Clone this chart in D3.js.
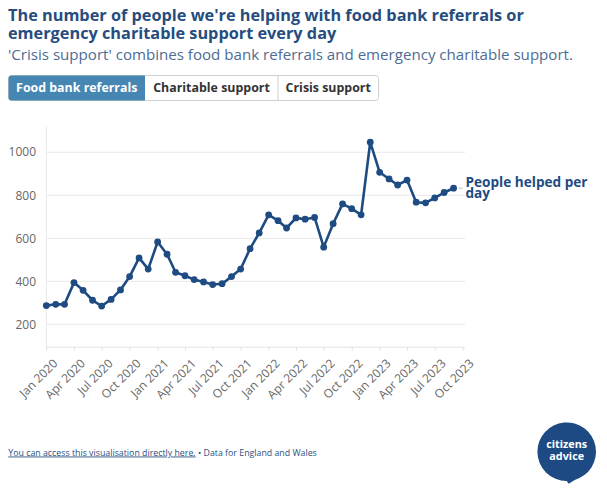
<!DOCTYPE html>
<html><head><meta charset="utf-8">
<script src="https://cdn.jsdelivr.net/npm/d3@7"></script>
<style>
html,body{margin:0;padding:0;background:#fff;}
svg{display:block;font-family:"Open Sans",sans-serif;}
</style></head>
<body>
<svg id="chart" width="607" height="496"></svg>
<script>
const months = ["2020-01","2020-02","2020-03","2020-04","2020-05","2020-06","2020-07","2020-08","2020-09","2020-10","2020-11","2020-12",
"2021-01","2021-02","2021-03","2021-04","2021-05","2021-06","2021-07","2021-08","2021-09","2021-10","2021-11","2021-12",
"2022-01","2022-02","2022-03","2022-04","2022-05","2022-06","2022-07","2022-08","2022-09","2022-10","2022-11","2022-12",
"2023-01","2023-02","2023-03","2023-04","2023-05","2023-06","2023-07","2023-08","2023-09"];
const peopleHelped = [287,293,293,394,358,312,285,316,360,422,509,457,
583,526,442,426,408,397,385,389,422,457,552,625,
709,682,648,695,689,697,559,668,760,738,709,1047,
907,876,848,871,768,765,788,813,833];
const yTicks = [200,400,600,800,1000];
const xTickMonths = ["2020-01","2020-04","2020-07","2020-10","2021-01","2021-04","2021-07","2021-10","2022-01","2022-04","2022-07","2022-10","2023-01","2023-04","2023-07","2023-10"];
const buttonLabels = ["Food bank referrals","Charitable support","Crisis support"];
const seriesLabelLines = ["People helped per","day"];

const svg = d3.select("#chart");
const parse = d3.timeParse("%Y-%m");
const fmt = d3.timeFormat("%b %Y");
const data = months.map((m,i)=>({date:parse(m), value:peopleHelped[i]}));

const x = d3.scaleTime().domain([parse("2020-01"), parse("2023-10")]).range([46.3, 462.7]);
const y = d3.scaleLinear().domain([96, 1119]).range([346.7, 126.7]);

// titles
const titleColor = "#264d7e";
svg.append("text").attr("x",8).attr("y",20.8).attr("fill",titleColor).attr("font-weight",700).attr("font-size",16.3)
  .text("The number of people we're helping with food bank referrals or");
svg.append("text").attr("x",8).attr("y",39.3).attr("fill",titleColor).attr("font-weight",700).attr("font-size",16.3)
  .text("emergency charitable support every day");
svg.append("text").attr("x",8).attr("y",60).attr("fill","#4d6c94").attr("font-size",15.1)
  .text("'Crisis support' combines food bank referrals and emergency charitable support.");

// buttons
const btnEdges = [8.5,145,278,378.5];
const bg = svg.append("g");
bg.append("rect").attr("x",8.5).attr("y",75.5).attr("width",370).attr("height",25).attr("rx",3)
  .attr("fill","#fff").attr("stroke","#cfcfcf");
bg.append("path").attr("d","M11.5,75.5 H145 V100.5 H11.5 Q8.5,100.5 8.5,97.5 V78.5 Q8.5,75.5 11.5,75.5 Z").attr("fill","#4686b2");
[278].forEach(e=>bg.append("line").attr("x1",e).attr("x2",e).attr("y1",75.5).attr("y2",100.5).attr("stroke","#cfcfcf"));
buttonLabels.forEach((b,i)=>{
  bg.append("text").attr("x",(btnEdges[i]+btnEdges[i+1])/2).attr("y",92).attr("text-anchor","middle")
    .attr("font-weight",700).attr("font-size",12.4).attr("fill", i===0?"#fff":"#333").text(b);
});

// grid
const g = svg.append("g");
g.selectAll("line.grid").data(yTicks).join("line").attr("class","grid")
  .attr("x1",46.3).attr("x2",465).attr("y1",d=>y(d)).attr("y2",d=>y(d)).attr("stroke","#e8e8e8");
g.append("line").attr("x1",46.3).attr("x2",46.3).attr("y1",126.7).attr("y2",346.7).attr("stroke","#e8e8e8");
g.selectAll("text.yl").data(yTicks).join("text").attr("class","yl")
  .attr("x",36).attr("y",d=>y(d)).attr("dy","0.35em").attr("text-anchor","end")
  .attr("font-size",12).attr("fill","#666").text(d=>d);

// x axis
const xAxis = d3.axisBottom(x).tickValues(xTickMonths.map(parse)).tickFormat(fmt).tickSize(4).tickSizeOuter(0);
const ax = svg.append("g").attr("transform","translate(0,346.7)").call(xAxis);
ax.select(".domain").attr("stroke","#e2e2e2").attr("d","M46.3,0.5H465");
ax.selectAll(".tick line").attr("stroke","#e2e2e2");
ax.selectAll(".tick text").attr("font-family","Open Sans").attr("font-size",12).attr("fill","#666")
  .attr("text-anchor","end").attr("transform","translate(8.5,14.5) rotate(-45)").attr("dy","0.35em").attr("y",0);

// line
const lineColor = "#1e4b82";
const line = d3.line().x(d=>x(d.date)).y(d=>y(d.value));
svg.append("path").datum(data).attr("d",line).attr("fill","none").attr("stroke",lineColor).attr("stroke-width",2.6).attr("stroke-linejoin","round");
svg.selectAll("circle.pt").data(data).join("circle").attr("class","pt")
  .attr("cx",d=>x(d.date)).attr("cy",d=>y(d.value)).attr("r",3.4).attr("fill",lineColor);

// label
const last = data[data.length-1];
svg.append("line").attr("x1",x(last.date)+5).attr("x2",x(last.date)+9).attr("y1",y(last.value)).attr("y2",y(last.value)).attr("stroke","#bbb");
const lab = svg.append("text").attr("x",465.5).attr("y",186.7).attr("fill",lineColor).attr("font-weight",700).attr("font-size",13.6);
seriesLabelLines.forEach((t,i)=>lab.append("tspan").attr("x",465.5).attr("dy",i?11.2:0).text(t));

// footer
const ft = svg.append("text").attr("x",8.3).attr("y",455.5).attr("font-size",8.8).attr("fill","#2a5080");
ft.append("tspan").attr("text-decoration","underline").text("You can access this visualisation directly here.");
ft.append("tspan").text(" • Data for England and Wales");

// logo
const lg = svg.append("g").attr("transform","translate(566.7,451.7)");
lg.append("path").attr("d","M-29.3,0 A29.3,29.3 0 1,1 8,28.2 L2,32 L0,29.3 A29.3,29.3 0 0,1 -29.3,0 Z").attr("fill","#1d4a83");
lg.append("text").attr("y",-3.4).attr("text-anchor","middle").attr("fill","#fff").attr("font-weight",700).attr("font-size",10.8).text("citizens");
lg.append("text").attr("y",8.3).attr("text-anchor","middle").attr("fill","#fff").attr("font-weight",700).attr("font-size",10.8).text("advice");
</script>
</body></html>
